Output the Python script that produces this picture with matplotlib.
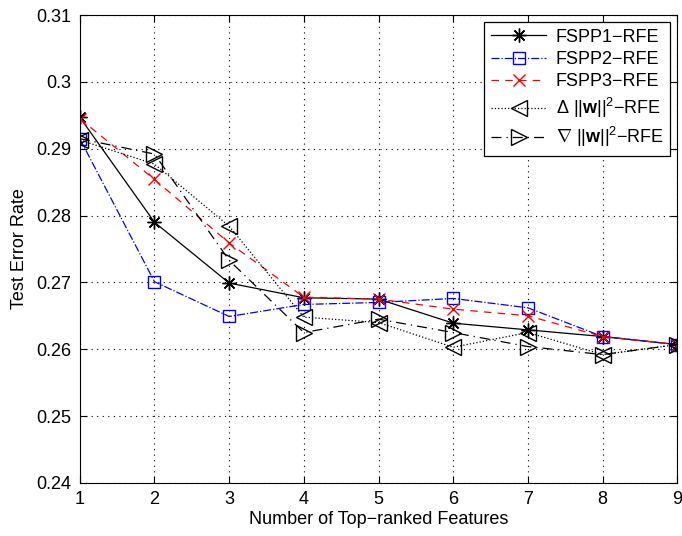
import matplotlib
matplotlib.use("Agg")
import matplotlib.pyplot as plt

plt.rcParams['font.family'] = ['Liberation Sans', 'DejaVu Sans']
plt.rcParams['mathtext.fontset'] = 'custom'
plt.rcParams['mathtext.rm'] = 'Liberation Sans'
plt.rcParams['mathtext.it'] = 'Liberation Sans:italic'
plt.rcParams['mathtext.bf'] = 'Liberation Sans:bold'

features = [1, 2, 3, 4, 5, 6, 7, 8, 9]
fspp1 = [0.2947, 0.2790, 0.2699, 0.2677, 0.2675, 0.2639, 0.2629, 0.2619, 0.2607]
fspp2 = [0.2915, 0.2701, 0.2649, 0.2667, 0.2670, 0.2676, 0.2662, 0.2619, 0.2607]
fspp3 = [0.2945, 0.2854, 0.2759, 0.2678, 0.2675, 0.2660, 0.2650, 0.2619, 0.2607]
delta_w = [0.2913, 0.2877, 0.2784, 0.2648, 0.2640, 0.2603, 0.2625, 0.2592, 0.2607]
nabla_w = [0.2915, 0.2892, 0.2733, 0.2625, 0.2645, 0.2625, 0.2604, 0.2592, 0.2607]

labels = ['FSPP1\u2212RFE', 'FSPP2\u2212RFE', 'FSPP3\u2212RFE',
          r'$\Delta\ ||\mathbf{w}||^2$' + '\u2212RFE',
          r'$\nabla\ ||\mathbf{w}||^2$' + '\u2212RFE']
yticks = [0.24, 0.25, 0.26, 0.27, 0.28, 0.29, 0.3, 0.31]
ytick_labels = ['0.24', '0.25', '0.26', '0.27', '0.28', '0.29', '0.3', '0.31']

fig = plt.figure(figsize=(6.82, 5.36), dpi=100)
ax = fig.add_axes([0.117, 0.099, 0.876, 0.873])

ax.plot(features, fspp1, color='black', linestyle='-', marker=(8, 2, 0),
        markersize=10, linewidth=0.9, label=labels[0])
ax.plot(features, fspp2, color='blue', linestyle='-.', marker='s',
        markersize=9, markerfacecolor='none', linewidth=0.9, label=labels[1])
ax.plot(features, fspp3, color='red', linestyle='--', marker='x',
        markersize=9, linewidth=0.9, label=labels[2],
        dashes=(6, 5))
ax.plot(features, delta_w, color='black', linestyle=':', marker='<',
        markersize=11, markerfacecolor='none', linewidth=0.9, label=labels[3])
ax.plot(features, nabla_w, color='black', linestyle='-.', marker='>',
        markersize=11, markerfacecolor='none', linewidth=0.9, label=labels[4],
        dashes=(8, 4, 1, 4))

ax.set_xlim(1, 9)
ax.set_ylim(0.24, 0.31)
ax.set_xticks(features)
ax.set_xticklabels([str(f) for f in features])
ax.set_yticks(yticks)
ax.set_yticklabels(ytick_labels)
ax.tick_params(direction='in', top=True, right=True, labelsize=13, length=5, pad=6)
ax.grid(True, linestyle=(0, (1, 4)), color='black', linewidth=0.8)
ax.set_xlabel('Number of Top\u2212ranked Features', fontsize=13, labelpad=2)
ax.set_ylabel('Test Error Rate', fontsize=13, labelpad=6)

leg = ax.legend(loc='upper right', fontsize=13, fancybox=False, framealpha=1,
                edgecolor='black', handlelength=3.1, borderaxespad=0.4,
                labelspacing=0.3, borderpad=0.35, handletextpad=0.5)
leg.get_frame().set_linewidth(0.9)

fig.savefig('out.png', dpi=100)
